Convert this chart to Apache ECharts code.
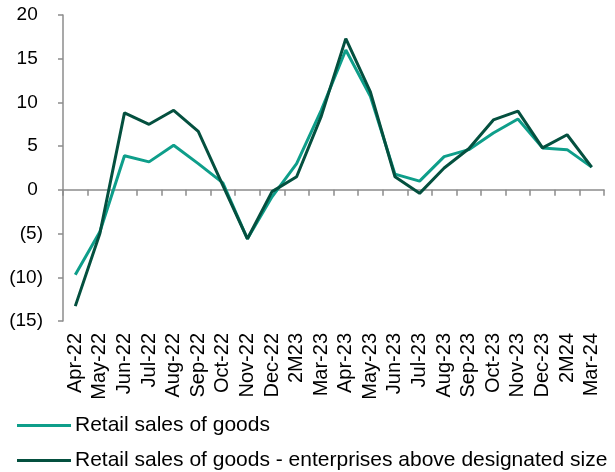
<!DOCTYPE html>
<html>
<head>
<meta charset="utf-8">
<script src="https://cdn.jsdelivr.net/npm/echarts@6/dist/echarts.min.js"></script>
<style>
  html, body { margin: 0; padding: 0; background: #fff; }
  #chart { width: 615px; height: 472px; }
</style>
</head>
<body>
<div id="chart"></div>
<script>
// Monthly categories (2M = Jan-Feb combined)
const months = ['Apr-22','May-22','Jun-22','Jul-22','Aug-22','Sep-22','Oct-22','Nov-22','Dec-22','2M23',
                'Mar-23','Apr-23','May-23','Jun-23','Jul-23','Aug-23','Sep-23','Oct-23','Nov-23','Dec-23','2M24','Mar-24'];

// Year-on-year growth, %
const retailGoods = [-9.7, -4.8, 3.9, 3.2, 5.1, 3.0, 0.8, -5.6, -0.8, 3.0,
                     9.1, 16.0, 10.7, 1.8, 1.0, 3.8, 4.6, 6.5, 8.1, 4.8, 4.6, 2.6];
const retailGoodsAboveSize = [-13.3, -5.0, 8.8, 7.5, 9.1, 6.7, 0.5, -5.6, -0.2, 1.5,
                              8.4, 17.3, 11.2, 1.5, -0.4, 2.5, 4.7, 8.0, 9.0, 4.8, 6.3, 2.6];

const yTicks = { min: -15, max: 20, step: 5 };

const seriesNames = ['Retail sales of goods', 'Retail sales of goods - enterprises above designated size'];
const teal = '#0E9E8A';
const dark = '#04503F';
const axisGrey = '#8C8C8C';
const fontFamily = '"Liberation Sans", Arial, sans-serif';

const chart = echarts.init(document.getElementById('chart'), null, { renderer: 'canvas' });

chart.setOption({
  animation: false,
  backgroundColor: '#ffffff',
  textStyle: { fontFamily: fontFamily, color: '#000' },
  grid: { left: 63, right: 11, top: 15, bottom: 151, containLabel: false },
  legend: {
    orient: 'vertical',
    left: 17,
    top: 415,
    padding: 0,
    itemWidth: 54,
    itemHeight: 3,
    itemGap: 14,
    icon: 'rect',
    textStyle: { fontFamily: fontFamily, fontSize: 21, lineHeight: 21, color: '#000', padding: [0, 0, 0, -1] },
    data: seriesNames
  },
  xAxis: [
    {
      type: 'category',
      data: months,
      boundaryGap: true,
      position: 'bottom',
      axisLine: { show: false, onZero: false },
      axisTick: { show: false },
      axisLabel: {
        rotate: 90,
        interval: 0,
        margin: 12,
        fontSize: 20,
        fontFamily: fontFamily,
        color: '#000'
      },
      splitLine: { show: false }
    },
    {
      type: 'category',
      data: months,
      boundaryGap: true,
      position: 'bottom',
      axisLine: { show: true, onZero: true, lineStyle: { color: axisGrey, width: 1.5 } },
      axisTick: { show: true, inside: false, length: 6, interval: 0, lineStyle: { color: axisGrey, width: 1.5 } },
      axisLabel: { show: false },
      splitLine: { show: false }
    }
  ],
  yAxis: {
    type: 'value',
    min: yTicks.min,
    max: yTicks.max,
    interval: yTicks.step,
    axisLine: { show: true, lineStyle: { color: axisGrey, width: 1.5 } },
    axisTick: { show: true, length: 5, lineStyle: { color: axisGrey, width: 1.5 } },
    splitLine: { show: false },
    axisLabel: {
      margin: 20,
      fontSize: 19,
      fontFamily: fontFamily,
      color: '#000',
      formatter: v => v < 0 ? '(' + Math.abs(v) + ')' : v + ' '
    }
  },
  series: [
    {
      name: seriesNames[0],
      type: 'line',
      xAxisIndex: 0,
      data: retailGoods,
      symbol: 'none',
      color: teal,
      lineStyle: { color: teal, width: 3 },
      z: 2
    },
    {
      name: seriesNames[1],
      type: 'line',
      xAxisIndex: 0,
      data: retailGoodsAboveSize,
      symbol: 'none',
      color: dark,
      lineStyle: { color: dark, width: 3 },
      z: 3
    }
  ]
});
</script>
</body>
</html>
